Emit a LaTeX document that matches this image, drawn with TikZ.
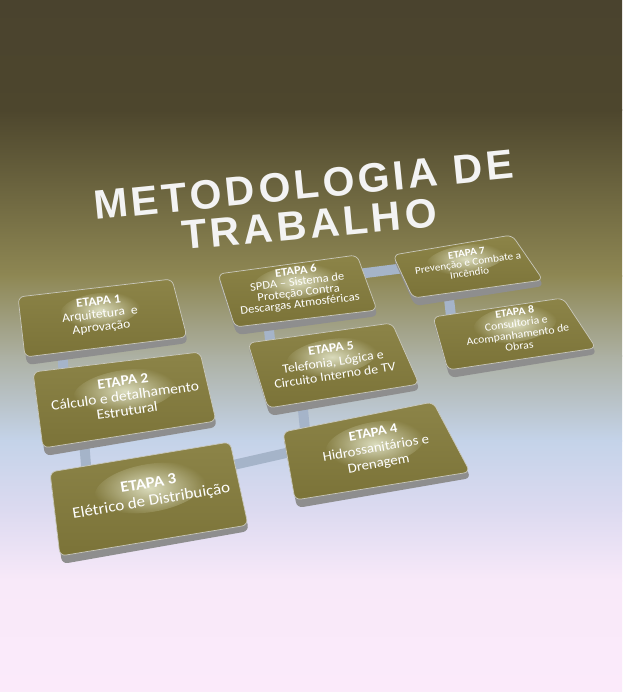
\documentclass[tikz,border=0pt]{standalone}
\usepackage{fontspec}
\setmainfont{Carlito}
\newfontfamily\titlefont[LetterSpace=9]{Liberation Sans}
\usetikzlibrary{calc,fadings}
\definecolor{bgA}{HTML}{4A432E}
\definecolor{bgB}{HTML}{4D462D}
\definecolor{bgC}{HTML}{8E8753}
\definecolor{bgD}{HTML}{ACB0A2}
\definecolor{bgE}{HTML}{C4D3E9}
\definecolor{bgF}{HTML}{DCDAF0}
\definecolor{bgG}{HTML}{F8E9F9}
\definecolor{bgH}{HTML}{FBEAFA}
\definecolor{oliveT}{HTML}{8C8448}
\definecolor{oliveB}{HTML}{7B7338}
\definecolor{rimc}{HTML}{C9C8BC}
\definecolor{sidec}{HTML}{8E8E8E}
\definecolor{barc}{HTML}{A5B4C9}
\definecolor{glowc}{HTML}{E4E6CA}
\definecolor{titlec}{HTML}{F3F3F3}
\tikzfading[name=glowfade, inner color=transparent!0, outer color=transparent!100]
\tikzset{
  slabside/.style={fill=sidec, rounded corners=6pt},
  slabtop/.style={top color=oliveT, bottom color=oliveB, draw=rimc, line width=0.7pt, rounded corners=6pt},
  bar/.style={draw=barc, line width=10pt},
  stxt/.style={text=white, align=center, inner sep=0pt},
  titletxt/.style={text=titlec, inner sep=0pt, font=\titlefont\bfseries\fontsize{41}{45}\selectfont},
}
\newcommand\slab[5]{%
  \coordinate (#1tl) at (#2);
  \coordinate (#1tr) at (#3);
  \coordinate (#1br) at (#4);
  \coordinate (#1bl) at (#5);
  \fill[slabside] ($(#1tl)+(0,3)$) -- ($(#1tr)+(0,3)$) -- ($(#1br)+(1,6)$) -- ($(#1bl)+(2,8)$) -- cycle;
  \path[slabtop] (#1tl) -- (#1tr) -- (#1br) -- (#1bl) -- cycle;
}
\newcommand\glowat[4]{%
  \fill[glowc, path fading=glowfade, fill opacity=0.9, rotate around={#4:(#1)}] (#1) ellipse [x radius=#2pt, y radius=#3pt];
}
\begin{document}
\begin{tikzpicture}[x=1pt, y=-1pt]
\useasboundingbox (0,0) rectangle (622,692);
% background
\shade[top color=bgA, bottom color=bgB] (0,-1) rectangle (622,111);
\shade[top color=bgB, bottom color=bgC] (0,110) rectangle (622,276);
\shade[top color=bgC, bottom color=bgD] (0,275) rectangle (622,356);
\shade[top color=bgD, bottom color=bgE] (0,355) rectangle (622,441);
\shade[top color=bgE, bottom color=bgF] (0,440) rectangle (622,511);
\shade[top color=bgF, bottom color=bgG] (0,510) rectangle (622,581);
\shade[top color=bgG, bottom color=bgH] (0,580) rectangle (622,693);

% title
\node[titletxt, anchor=base west, rotate=5.7] (title1) at (95,220) {METODOLOGIA DE};
\node[titletxt, anchor=base west, rotate=5.3] (title2) at (183,250) {TRABALHO};

% connector end points
\coordinate (c12a) at (62,345);  \coordinate (c12b) at (64,380);
\coordinate (c23a) at (84,440);  \coordinate (c23b) at (87,478);
\coordinate (c34a) at (220,468); \coordinate (c34b) at (295,451);
\coordinate (c45a) at (302,400); \coordinate (c45b) at (306,440);
\coordinate (c56a) at (268,320); \coordinate (c56b) at (271,350);
\coordinate (c67a) at (350,275); \coordinate (c67b) at (405,268);
\coordinate (c78a) at (448,290); \coordinate (c78b) at (452,325);
\draw[bar] (c12a) -- (c12b);
\draw[bar] (c23a) -- (c23b);
\draw[bar] (c34a) -- (c34b);
\draw[bar] (c45a) -- (c45b);
\draw[bar] (c56a) -- (c56b);
\draw[bar] (c67a) -- (c67b);
\draw[bar] (c78a) -- (c78b);

% boxes
\slab{b7}{393,255}{512,235}{543,280}{413,298}
\slab{b6}{218,274}{357,255}{377,310}{235,327}
\slab{b8}{433,317}{563,298}{596,348}{448,370}
\slab{b1}{18,297}{172,279}{187,337}{25,357}
\slab{b5}{248,343}{392,323}{419,384}{268,408}
\slab{b2}{33,372}{200,352}{216,421}{43,448}
\slab{b4}{283,432}{433,402}{470,472}{295,500}
\slab{b3}{50,472}{230,442}{248,525}{60,556}

% glows
\glowat{466,259}{40}{14}{8.5}
\glowat{297,282}{44}{17}{7}
\glowat{515,324}{42}{18}{8}
\glowat{100,310}{40}{17}{6.5}
\glowat{332,357}{46}{18}{8.5}
\glowat{125,391}{52}{21}{8}
\glowat{375,444}{50}{22}{10}
\glowat{150,488}{56}{24}{9.5}

% texts
\node[stxt, font=\fontsize{11.2}{11}\selectfont, rotate=8.5, yscale=0.92] (t7) at (468,263) {\textbf{ETAPA 7}\\Prevenção e Combate a\\Incêndio};
\node[stxt, font=\fontsize{12.6}{12}\selectfont, rotate=7, yscale=0.92] (t6) at (298,288) {\textbf{ETAPA 6}\\SPDA – Sistema de\\Proteção Contra\\Descargas Atmosféricas};
\node[stxt, font=\fontsize{11.8}{12.5}\selectfont, rotate=8, yscale=0.92] (t8) at (517,329) {\textbf{ETAPA 8}\\Consultoria e\\Acompanhamento de\\Obras};
\node[stxt, font=\fontsize{13.5}{14}\selectfont, rotate=6.5, yscale=0.92] (t1) at (100,315) {\textbf{ETAPA 1}\\Arquitetura\ \ e\\Aprovação};
\node[stxt, font=\fontsize{13.8}{15}\selectfont, rotate=8.5, yscale=0.92] (t5) at (333,362) {\textbf{ETAPA 5}\\Telefonia, Lógica e\\Circuito Interno de TV};
\node[stxt, font=\fontsize{15.5}{16.5}\selectfont, rotate=8, yscale=0.92] (t2) at (125,396) {\textbf{ETAPA 2}\\Cálculo e detalhamento\\Estrutural};
\node[stxt, font=\fontsize{14.8}{17}\selectfont, rotate=10, yscale=0.92] (t4) at (376,449) {\textbf{ETAPA 4}\\Hidrossanitários e\\Drenagem};
\node[stxt, font=\fontsize{17}{19}\selectfont, rotate=9.5, yscale=0.92] (t3) at (150,493) {\textbf{ETAPA 3}\\Elétrico de Distribuição};
\end{tikzpicture}
\end{document}
